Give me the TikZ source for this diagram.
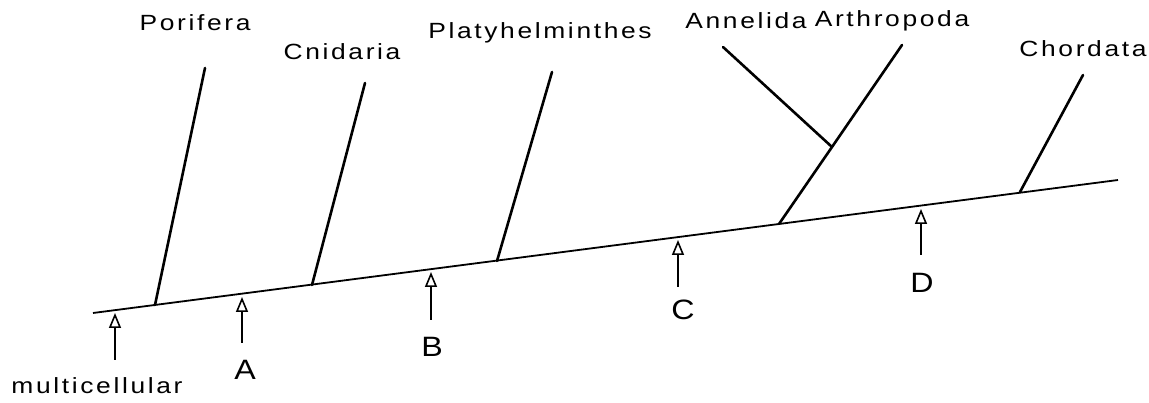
\documentclass[tikz,border=0pt]{standalone}
\usepackage{fontspec}
\newfontfamily\labfont[LetterSpace=12, FakeStretch=1.2]{Liberation Sans}
\newfontfamily\letfont[FakeStretch=1.15]{Liberation Sans}
\usetikzlibrary{arrows.meta}
\tikzset{
  lab/.style={inner sep=0pt, font=\labfont\fontsize{22}{25}\selectfont},
  let/.style={inner sep=0pt, font=\letfont\fontsize{28}{31}\selectfont},
  mainline/.style={line width=1.8pt},
  branch/.style={line width=2.6pt, line cap=round},
  marker/.style={line width=1.5pt, -{Triangle[open, length=15pt, width=12pt, line width=1.6pt]}},
}
\begin{document}
\begin{tikzpicture}[x=1pt, y=-1pt]
\useasboundingbox (0,0) rectangle (1149,403);
% main axis
\coordinate (m0) at (93,313);
\coordinate (m1) at (1118,180);
\draw[mainline] (m0) -- (m1);
% branch bases and tips
\coordinate (bpor) at (155,305);
\coordinate (tpor) at (205,68);
\coordinate (bcni) at (312,285);
\coordinate (tcni) at (365,83);
\coordinate (bpla) at (497,261);
\coordinate (tpla) at (552,72);
\coordinate (bart) at (779,224);
\coordinate (jart) at (832,147);
\coordinate (tart) at (902,45);
\coordinate (tann) at (723,47);
\coordinate (bcho) at (1020,192);
\coordinate (tcho) at (1083,75);
\draw[branch] (bpor) -- (tpor);
\draw[branch] (bcni) -- (tcni);
\draw[branch] (bpla) -- (tpla);
\draw[branch] (bart) -- (jart) -- (tart);
\draw[branch] (jart) -- (tann);
\draw[branch] (bcho) -- (tcho);
% labels
\node[lab] (por) at (195,23) {Porifera};
\node[lab] (cni) at (342,52) {Cnidaria};
\node[lab] (pla) at (540,33) {Platyhelminthes};
\node[lab] (ann) at (746,21) {Annelida};
\node[lab] (art) at (892,21) {Arthropoda};
\node[lab] (cho) at (1083,49) {Chordata};
\node[lab] (mul) at (97,386) {multicellular};
\node[let] (la) at (245,370) {A};
\node[let] (lb) at (432,347) {B};
\node[let] (lc) at (683,310) {C};
\node[let] (ld) at (922,283) {D};
% markers
\coordinate (smul) at (115,360); \coordinate (emul) at (115,313);
\coordinate (sa) at (242,343); \coordinate (ea) at (242,297);
\coordinate (sb) at (431,320); \coordinate (eb) at (431,272);
\coordinate (sc) at (678,287); \coordinate (ec) at (678,240);
\coordinate (sd) at (921,255); \coordinate (ed) at (921,209);
\draw[marker] (smul) -- (emul);
\draw[marker] (sa) -- (ea);
\draw[marker] (sb) -- (eb);
\draw[marker] (sc) -- (ec);
\draw[marker] (sd) -- (ed);
\end{tikzpicture}
\end{document}
